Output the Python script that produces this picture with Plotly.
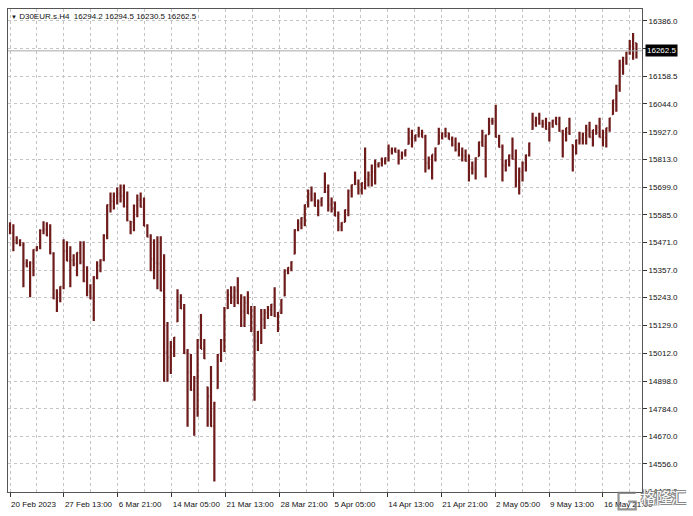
import plotly.graph_objects as go

symbol = "D30EUR.s.H4"
last_ohlc = [16294.2, 16294.5, 16230.5, 16262.5]

opens = [15540, 15510, 15480, 15470, 15460, 15385, 15372, 15387, 15440, 15452,
         15520, 15525, 15500, 15426, 15240, 15257, 15288, 15435, 15396, 15398,
         15381, 15428, 15391, 15311, 15268, 15240, 15328, 15375, 15398, 15500,
         15625, 15642, 15663, 15673, 15663, 15620, 15557, 15555, 15622, 15647,
         15618, 15540, 15495, 15402, 15387, 15383, 15272, 15019, 14996, 15039,
         15145, 15227, 15198, 15014, 14934, 14862, 14911, 15068, 15031, 14872,
         14835, 14712, 14869, 15006, 15068, 15200, 15253, 15247, 15272, 15220,
         15185, 15222, 15178, 15104, 15064, 15102, 15154, 15181, 15192, 15214,
         15166, 15180, 15252, 15354, 15366, 15425, 15522, 15550, 15572, 15625,
         15671, 15649, 15622, 15638, 15680, 15680, 15626, 15610, 15582, 15535,
         15556, 15605, 15684, 15712, 15713, 15694, 15716, 15733, 15748, 15762,
         15791, 15799, 15807, 15819, 15848, 15853, 15845, 15830, 15840, 15878,
         15900, 15902, 15914, 15921, 15906, 15799, 15783, 15834, 15878, 15910,
         15922, 15910, 15898, 15875, 15855, 15834, 15830, 15808, 15778, 15776,
         15828, 15885, 15870, 15918, 15972, 15972, 15907, 15866, 15789, 15809,
         15831, 15816, 15725, 15764, 15799, 15831, 15940, 15970, 15982, 15962,
         15962, 15940, 15962, 15974, 15960, 15932, 15916, 15943, 15873, 15865,
         15893, 15900, 15916, 15937, 15906, 15935, 15945, 15906, 15904, 15943,
         16001, 16058, 16118, 16201, 16232, 16255, 16281, 16294.2]

highs = [15554.0, 15545.7, 15496.3, 15483.9, 15471.6, 15401.6, 15393.3, 15442.8, 15455.1, 15525.1,
         15558.1, 15554.0, 15545.7, 15430.4, 15278.0, 15290.3, 15483.9, 15475.7, 15455.1, 15422.2,
         15430.4, 15475.7, 15475.7, 15372.8, 15298.6, 15331.5, 15393.3, 15401.6, 15504.5, 15628.1,
         15677.5, 15677.5, 15698.1, 15710.5, 15710.5, 15681.7, 15558.1, 15628.1, 15669.3, 15677.5,
         15657.0, 15545.7, 15504.5, 15483.9, 15496.3, 15496.3, 15422.2, 15142.1, 15063.8, 15080.3,
         15278.0, 15257.4, 15216.2, 15030.9, 15010.3, 14919.7, 15072.1, 15175.0, 15072.1, 14874.4,
         14960.8, 14812.6, 15010.3, 15072.1, 15203.8, 15278.0, 15290.3, 15290.3, 15327.4, 15257.4,
         15249.1, 15269.7, 15207.9, 15207.9, 15105.0, 15195.6, 15195.6, 15207.9, 15216.2, 15286.2,
         15183.3, 15236.8, 15360.4, 15368.6, 15393.3, 15525.1, 15566.3, 15574.6, 15628.1, 15689.9,
         15702.2, 15677.5, 15648.7, 15657.0, 15759.9, 15710.5, 15657.0, 15640.5, 15599.3, 15554.0,
         15607.5, 15689.9, 15710.5, 15764.0, 15731.1, 15718.7, 15862.9, 15764.0, 15792.9, 15813.5,
         15801.1, 15821.7, 15821.7, 15875.2, 15862.9, 15862.9, 15854.7, 15846.4, 15854.7, 15945.3,
         15937.0, 15916.4, 15949.4, 15937.0, 15916.4, 15825.8, 15834.0, 15862.9, 15945.3, 15924.7,
         15945.3, 15924.7, 15908.2, 15904.1, 15883.5, 15862.9, 15854.7, 15834.0, 15805.2, 15821.7,
         15887.6, 15937.0, 15916.4, 15986.5, 15986.5, 16040.0, 15916.4, 15875.2, 15813.5, 15834.0,
         15904.1, 15854.7, 15780.5, 15805.2, 15834.0, 15883.5, 16007.0, 15990.6, 16007.0, 15978.2,
         15986.5, 15970.0, 15978.2, 15990.6, 15990.6, 15937.0, 15945.3, 15986.5, 15875.2, 15895.8,
         15928.8, 15924.7, 15957.6, 15970.0, 15937.0, 15957.6, 15986.5, 15937.0, 15945.3, 15986.5,
         16060.6, 16122.4, 16225.4, 16237.7, 16258.3, 16307.7, 16336.6, 16294.5]

lows = [15504.5, 15434.5, 15463.3, 15455.1, 15286.2, 15368.6, 15245.0, 15331.5, 15434.5, 15442.8,
        15504.5, 15496.3, 15422.2, 15236.8, 15183.3, 15224.4, 15278.0, 15393.3, 15286.2, 15372.8,
        15331.5, 15381.0, 15306.8, 15249.1, 15236.8, 15146.2, 15319.2, 15348.0, 15393.3, 15483.9,
        15595.1, 15607.5, 15628.1, 15636.3, 15615.7, 15558.1, 15504.5, 15516.9, 15574.6, 15615.7,
        15537.5, 15492.2, 15352.1, 15319.2, 15278.0, 15269.7, 14895.0, 14895.0, 14928.0, 14997.9,
        15142.1, 15195.6, 15010.3, 14709.6, 14858.0, 14672.5, 14750.8, 15030.9, 14989.7, 14709.6,
        14709.6, 14483.0, 14866.2, 14977.3, 15018.5, 15195.6, 15216.2, 15203.8, 15216.2, 15121.5,
        15121.5, 15175.0, 15100.9, 14816.7, 15022.6, 15051.5, 15113.3, 15154.4, 15166.8, 15162.7,
        15100.9, 15175.0, 15249.1, 15339.8, 15352.1, 15422.2, 15516.9, 15525.1, 15537.5, 15615.7,
        15640.5, 15619.9, 15578.7, 15619.9, 15677.5, 15599.3, 15595.1, 15578.7, 15516.9, 15516.9,
        15554.0, 15578.7, 15657.0, 15710.5, 15669.3, 15669.3, 15689.9, 15702.2, 15702.2, 15710.5,
        15780.5, 15784.6, 15792.9, 15805.2, 15834.0, 15842.3, 15792.9, 15813.5, 15825.8, 15875.2,
        15862.9, 15887.6, 15904.1, 15904.1, 15759.9, 15772.3, 15731.1, 15805.2, 15875.2, 15895.8,
        15904.1, 15895.8, 15867.0, 15846.4, 15825.8, 15805.2, 15805.2, 15722.8, 15751.7, 15731.1,
        15825.8, 15867.0, 15739.3, 15916.4, 15957.6, 15904.1, 15862.9, 15722.8, 15764.0, 15784.6,
        15813.5, 15698.1, 15669.3, 15722.8, 15764.0, 15825.8, 15937.0, 15949.4, 15957.6, 15945.3,
        15937.0, 15887.6, 15945.3, 15957.6, 15928.8, 15821.7, 15887.6, 15916.4, 15764.0, 15834.0,
        15875.2, 15875.2, 15875.2, 15904.1, 15867.0, 15916.4, 15904.1, 15867.0, 15862.9, 15928.8,
        15998.8, 16011.2, 16093.5, 16163.6, 16204.8, 16246.0, 16225.4, 16230.5]

closes = [15510, 15480, 15470, 15460, 15385, 15372, 15387, 15440, 15452, 15520,
          15525, 15500, 15426, 15240, 15257, 15288, 15435, 15396, 15398, 15381,
          15428, 15391, 15311, 15268, 15240, 15328, 15375, 15398, 15500, 15625,
          15642, 15663, 15673, 15663, 15620, 15562, 15555, 15622, 15647, 15618,
          15540, 15495, 15402, 15387, 15383, 15272, 15019, 14996, 15039, 15078,
          15227, 15198, 15014, 14934, 14862, 14911, 15068, 15031, 14992, 14835,
          14712, 14808, 15006, 15068, 15200, 15253, 15247, 15272, 15220, 15185,
          15222, 15178, 15104, 15064, 15102, 15154, 15181, 15192, 15214, 15166,
          15180, 15234, 15354, 15366, 15390, 15522, 15550, 15572, 15625, 15671,
          15649, 15622, 15638, 15654, 15680, 15626, 15610, 15582, 15535, 15552,
          15605, 15684, 15708, 15713, 15694, 15716, 15733, 15748, 15762, 15791,
          15799, 15807, 15819, 15848, 15853, 15845, 15830, 15840, 15852, 15900,
          15902, 15914, 15921, 15906, 15799, 15783, 15834, 15860, 15910, 15922,
          15910, 15898, 15875, 15855, 15834, 15830, 15808, 15778, 15776, 15819,
          15885, 15870, 15913, 15972, 15972, 15907, 15866, 15789, 15809, 15831,
          15816, 15725, 15764, 15799, 15831, 15880, 15970, 15982, 15962, 15962,
          15940, 15962, 15974, 15960, 15932, 15916, 15943, 15919, 15865, 15893,
          15900, 15916, 15937, 15906, 15935, 15945, 15906, 15904, 15943, 15984,
          16058, 16118, 16201, 16232, 16255, 16281, 16294, 16262.5]

time_labels = ["20 Feb 2023", "27 Feb 13:00", "6 Mar 21:00", "14 Mar 05:00",
               "21 Mar 13:00", "28 Mar 21:00", "5 Apr 05:00", "14 Apr 13:00",
               "21 Apr 21:00", "2 May 05:00", "9 May 13:00", "16 May 21:00"]

price_ticks = [16386.0, 16272.0, 16158.5, 16044.0, 15927.0, 15813.0, 15699.0,
               15585.0, 15471.0, 15357.0, 15243.0, 15129.0, 15012.0, 14898.0,
               14784.0, 14670.0, 14556.0, 14442.0]
hidden_price_tick = 16272.0

watermark_text = "格隆汇"

bars = list(range(len(closes)))

BAR_COLOR = "#6e1b1b"
GRID = "#c4c4c4"
FONT = "Liberation Sans"
LABEL_STEP = 16.09  # bars between time labels

fig = go.Figure(go.Ohlc(
    x=bars, open=opens, high=highs, low=lows, close=closes,
    increasing=dict(line=dict(color=BAR_COLOR, width=2.2)),
    decreasing=dict(line=dict(color=BAR_COLOR, width=2.2)),
    tickwidth=0.35, hoverinfo="skip", showlegend=False,
))

major_x = [k * LABEL_STEP for k in range(len(time_labels))]
minor_x = [k * LABEL_STEP + LABEL_STEP / 2 for k in range(len(time_labels))]

fig.update_layout(
    width=693, height=516,
    margin=dict(l=8, r=51, t=9, b=24, autoexpand=False),
    paper_bgcolor="white", plot_bgcolor="white",
    font=dict(family=FONT, size=8, color="#111111"),
    hovermode=False,
    xaxis=dict(
        range=[-0.6, 188.66], tickmode="array", tickvals=major_x, ticktext=time_labels,
        ticks="outside", ticklen=4, tickcolor="#333333", tickangle=0,
        ticklabelposition="outside right", ticklabelstandoff=4, automargin=False,
        showgrid=True, gridcolor=GRID, griddash="3px,3px", gridwidth=1,
        minor=dict(tickmode="array", tickvals=minor_x, showgrid=True,
                   gridcolor=GRID, griddash="3px,3px", ticks=""),
        showline=True, linecolor="#555555", linewidth=1, mirror=True,
        zeroline=False, rangeslider=dict(visible=False), fixedrange=True,
        tickfont=dict(family=FONT, size=8, color="#111111"),
    ),
    yaxis=dict(
        side="right", range=[14440, 16435.4], tickmode="array", tickvals=price_ticks,
        ticktext=["" if v == hidden_price_tick else f"{v:.1f}" for v in price_ticks],
        ticks="outside", ticklen=4, tickcolor="#333333", automargin=False,
        showgrid=True, gridcolor=GRID, griddash="3px,3px", gridwidth=1,
        showline=True, linecolor="#555555", linewidth=1, mirror=True,
        zeroline=False, fixedrange=True,
        tickfont=dict(family=FONT, size=8, color="#111111"),
    ),
)

# bid line at last close
fig.add_shape(type="line", xref="paper", yref="y", x0=0, x1=1,
              y0=last_ohlc[3], y1=last_ohlc[3], line=dict(color="#a8a8a8", width=1))

# price box on the axis
fig.add_annotation(xref="paper", yref="y", x=1, y=last_ohlc[3], xanchor="left",
                   yanchor="middle", text=f"{last_ohlc[3]:.1f}", showarrow=False,
                   bgcolor="black", font=dict(color="white", size=8, family=FONT),
                   borderpad=1, xshift=3)

# header text
header = ("<span style='font-size:6px'>▼</span> " + symbol + "  " +
          " ".join(f"{v:.1f}" for v in last_ohlc))
fig.add_annotation(xref="paper", yref="paper", x=0, y=1, xanchor="left", yanchor="top",
                   text=header, showarrow=False, xshift=1, yshift=-1,
                   font=dict(size=8, color="#111111", family=FONT))

# watermark (outlined white text with a small logo box)
fig.add_shape(type="path", xref="paper", yref="paper",
              path="M 0.990,-0.002 L 0.963,-0.002 L 0.963,-0.036 L 0.990,-0.036 L 0.990,-0.020 L 0.978,-0.020",
              line=dict(color="rgba(120,120,120,0.8)", width=2.2))
fig.add_annotation(xref="paper", yref="paper", x=1.034, y=-0.010, xanchor="center",
                   yanchor="middle", text=watermark_text, showarrow=False,
                   font=dict(size=15, color="white", family="Noto Sans CJK SC",
                             shadow="1px 1px 0 #888, -1px -1px 0 #888, 1px -1px 0 #888, -1px 1px 0 #888"))

fig.write_html("out.html", config={"displayModeBar": False, "staticPlot": True},
               post_script="document.body.style.margin='0';")
